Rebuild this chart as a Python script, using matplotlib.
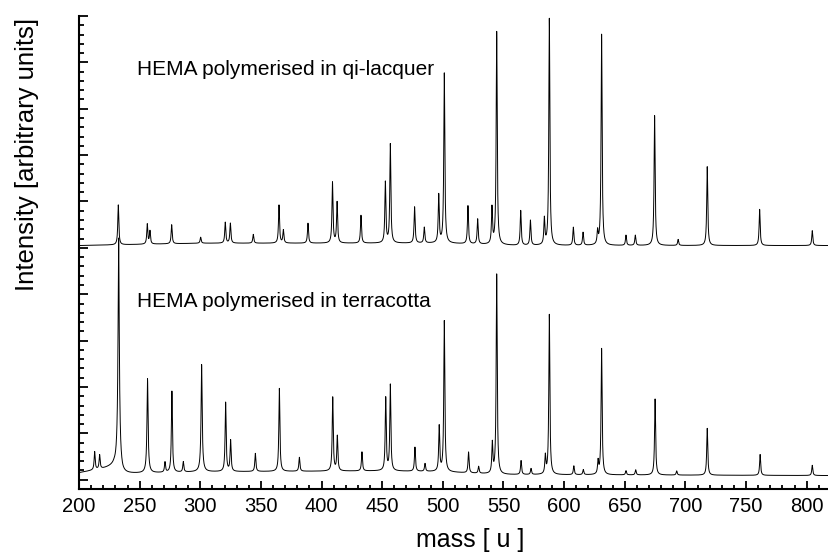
import matplotlib
matplotlib.use("Agg")
import matplotlib.pyplot as plt
import numpy as np
from matplotlib.ticker import MultipleLocator, NullFormatter

plt.rcParams["font.family"] = ["Liberation Sans", "DejaVu Sans"]

# upper spectrum: HEMA in qi-lacquer (peak mass, height above baseline, arbitrary units)
lacquer_mass = [232.4, 256.3, 258.5, 276.4, 300.3, 320.6, 324.8, 343.7, 364.9, 368.5,
                388.8, 409.0, 412.8, 432.5, 452.6, 456.7, 476.7, 484.7, 496.6, 501.2,
                520.7, 528.7, 540.5, 544.4, 564.2, 572.2, 583.7, 587.8, 607.6, 615.6,
                627.6, 630.9, 651.0, 658.7, 674.6, 694.0, 718.0, 761.2, 804.6]
lacquer_height = [0.86, 0.43, 0.28, 0.41, 0.13, 0.45, 0.43, 0.19, 0.82, 0.28,
                  0.43, 1.31, 0.88, 0.60, 1.31, 2.13, 0.78, 0.34, 1.03, 3.66,
                  0.82, 0.54, 0.78, 4.59, 0.75, 0.54, 0.56, 4.89, 0.39, 0.28,
                  0.28, 4.55, 0.22, 0.22, 2.80, 0.13, 1.70, 0.78, 0.32]
lacquer_base_mass = [200, 300, 500, 560, 820]
lacquer_base_level = [5.05, 5.10, 5.10, 5.05, 5.05]

# lower spectrum: HEMA in terracotta
terracotta_mass = [212.9, 217.0, 232.7, 256.5, 270.9, 276.6, 286.0, 301.1, 320.9, 325.0,
                   345.4, 365.2, 381.7, 409.2, 413.0, 433.3, 452.9, 456.7, 477.0, 485.3,
                   497.0, 501.2, 521.2, 529.5, 540.8, 544.4, 564.5, 572.7, 584.5, 587.8,
                   608.0, 615.8, 628.0, 630.9, 651.0, 659.0, 675.0, 692.8, 718.0, 761.6,
                   804.6]
terracotta_height = [0.39, 0.30, 3.30, 1.78, 0.22, 1.75, 0.22, 2.01, 1.49, 0.67,
                     0.39, 1.79, 0.30, 1.59, 0.75, 0.41, 1.57, 1.85, 0.52, 0.17,
                     0.97, 3.25, 0.45, 0.15, 0.65, 4.31, 0.30, 0.13, 0.39, 3.45,
                     0.19, 0.11, 0.28, 2.72, 0.09, 0.11, 1.64, 0.09, 1.01, 0.45,
                     0.22]
# broader feet under some of the terracotta peaks
terracotta_broad_mass = [232.7, 256.5, 301.1]
terracotta_broad_height = [1.70, 0.25, 0.30]
terracotta_base_mass = [200, 220, 229, 236, 300, 450, 500, 548, 820]
terracotta_base_level = [0.15, 0.24, 0.30, 0.13, 0.17, 0.19, 0.17, 0.11, 0.09]

mass_grid = np.arange(200, 820.05, 0.1)


def spectrum(peaks, heights, base_mass, base_level, hwhm=0.5):
    y = np.interp(mass_grid, base_mass, base_level)
    for m, h in zip(peaks, heights):
        y += h * hwhm**2 / ((mass_grid - m) ** 2 + hwhm**2)
    return y


lacquer = spectrum(lacquer_mass, lacquer_height, lacquer_base_mass, lacquer_base_level)
terracotta = spectrum(terracotta_mass, terracotta_height, terracotta_base_mass, terracotta_base_level)
terracotta += spectrum(terracotta_broad_mass, terracotta_broad_height, [200, 820], [0, 0], hwhm=1.0)

fig = plt.figure(figsize=(8.29, 5.56), dpi=100)
ax = fig.add_axes([79 / 829, 67 / 556, 1 - 79 / 829, 473 / 556])
ax.plot(mass_grid, lacquer, color="black", linewidth=0.7)
ax.plot(mass_grid, terracotta, color="black", linewidth=0.7)

ax.set_xlim(200, 818.4)
ax.set_ylim(-0.2, 10)
ax.xaxis.set_major_locator(MultipleLocator(50))
ax.xaxis.set_minor_locator(MultipleLocator(10))
ax.yaxis.set_major_locator(MultipleLocator(1))
ax.yaxis.set_minor_locator(MultipleLocator(0.2))
ax.yaxis.set_major_formatter(NullFormatter())
ax.tick_params(axis="both", which="both", direction="in", width=1.3)
ax.tick_params(axis="x", which="major", length=6, labelsize=14.5, pad=6)
ax.tick_params(axis="x", which="minor", length=3.2)
ax.tick_params(axis="y", which="major", length=6.5)
ax.tick_params(axis="y", which="minor", length=3.5)
for side in ("top", "right"):
    ax.spines[side].set_visible(False)
for side in ("left", "bottom"):
    ax.spines[side].set_linewidth(1.5)

ax.text(247.8, 8.85, "HEMA polymerised in qi-lacquer", fontsize=15, va="center", ha="left")
ax.text(247.8, 3.85, "HEMA polymerised in terracotta", fontsize=15, va="center", ha="left")

fig.text(27 / 829, 1 - 154 / 556, "Intensity [arbitrary units]", rotation=90,
         fontsize=18.5, ha="center", va="center")
fig.text(470 / 829, 1 - 540 / 556, "mass [ u ]", fontsize=18, ha="center", va="center")

fig.savefig("out.png", dpi=100)
